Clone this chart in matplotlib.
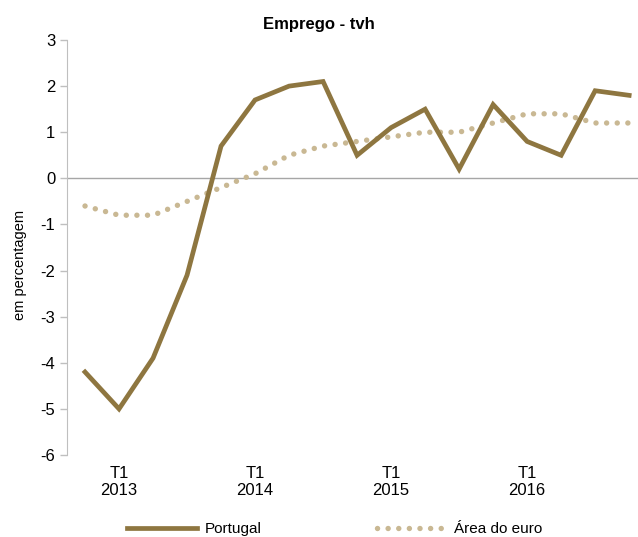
import numpy as np
from matplotlib import pyplot as plt

plt.rcParams['font.family'] = ['Liberation Sans', 'DejaVu Sans']
plt.rcParams['axes.unicode_minus'] = False

# trimestral, T4 2012 .. T4 2016
portugal = [-4.2, -5.0, -3.9, -2.1, 0.7, 1.7, 2.0, 2.1, 0.5, 1.1, 1.5, 0.2, 1.6, 0.8, 0.5, 1.9, 1.8]
area_euro = [-0.6, -0.8, -0.8, -0.5, -0.2, 0.1, 0.5, 0.7, 0.8, 0.9, 1.0, 1.0, 1.2, 1.4, 1.4, 1.2, 1.2]
tick_pos = [1, 5, 9, 13]
tick_labels = ['T1\n2013', 'T1\n2014', 'T1\n2015', 'T1\n2016']

x = np.arange(len(portugal))

fig = plt.figure(figsize=(6.38, 5.37), dpi=100)
ax = fig.add_axes([0.105, 0.1527, 0.895, 0.7728])

ax.axhline(0, color='#A6A6A6', lw=1.0, zorder=1)
ax.plot(x, area_euro, color='#C9B893', lw=3.9, linestyle=(0, (0.01, 1.95)),
        dash_capstyle='round', label='Área do euro', zorder=2)
ax.plot(x, portugal, color='#8E7640', lw=3.4, solid_joinstyle='miter',
        label='Portugal', zorder=3)

ax.set_xlim(-0.53, 16.26)
ax.set_ylim(-6, 3)
ax.set_yticks(range(-6, 4))
ax.set_xticks(tick_pos)
ax.set_xticklabels(tick_labels, fontsize=12, linespacing=1.15)
ax.tick_params(axis='x', length=0, pad=8)
ax.tick_params(axis='y', labelsize=12, length=5, color='#BFBFBF', width=1)

for s in ['top', 'right', 'bottom']:
    ax.spines[s].set_visible(False)
ax.spines['left'].set_color('#BFBFBF')

ax.set_ylabel('em percentagem', fontsize=10.5)
ax.yaxis.set_label_coords(-0.07, 0.458)
fig.text(0.5, 1 - 25 / 537, 'Emprego - tvh', ha='center', va='center',
         fontsize=12, fontweight='bold')

h, l = ax.get_legend_handles_labels()
fig.legend(h[::-1], l[::-1], loc='center', bbox_to_anchor=(0.525, 1 - 529 / 537),
           ncol=2, frameon=False, fontsize=11, handlelength=4.6,
           columnspacing=7.5, handletextpad=0.5)

fig.savefig('out.png', dpi=100)
